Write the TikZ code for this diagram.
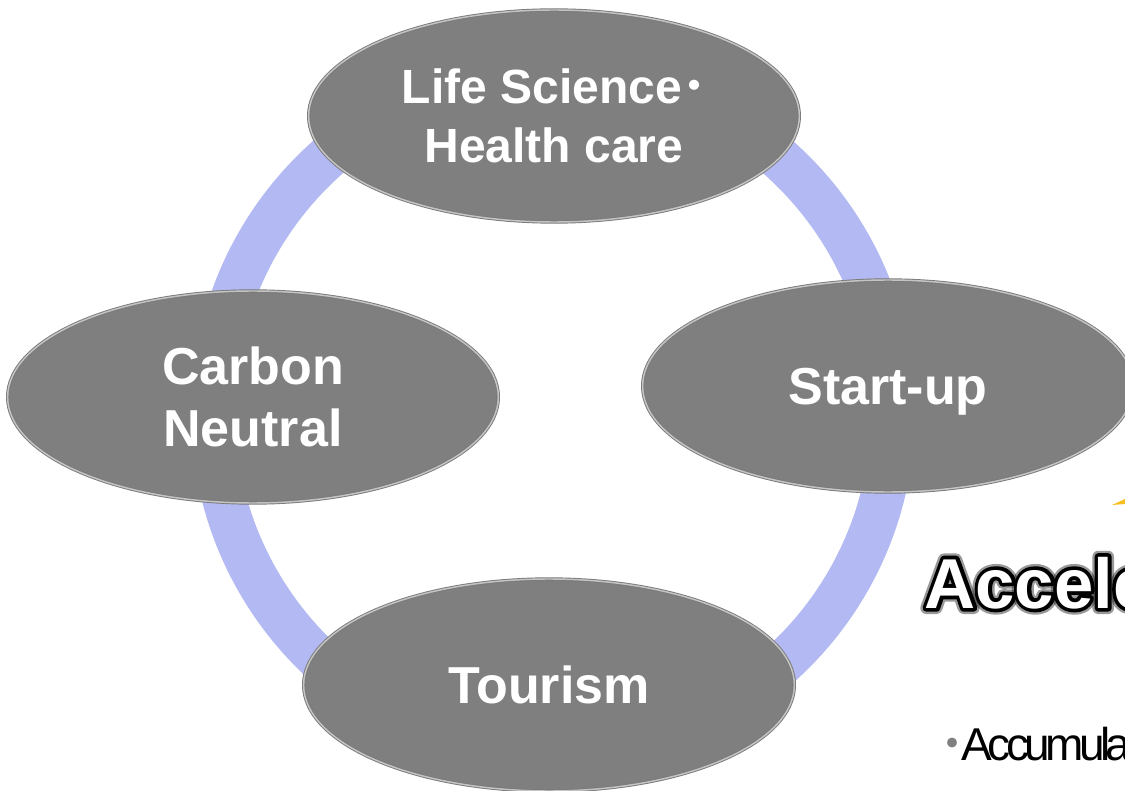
\documentclass[tikz,border=0pt]{standalone}
\usepackage{fontspec}
\setmainfont{Liberation Sans}
\newfontfamily\cjk{Noto Sans CJK JP}
\newfontfamily\tight[LetterSpace=-10]{Liberation Sans}
\usetikzlibrary{shapes.geometric}

% outlined text: stroke the glyphs (pdf text render mode 2)
\newcommand{\strokedtext}[2]{\special{pdf:literal direct 2 Tr #1 w 1 j}#2\special{pdf:literal direct 0 Tr}}

\tikzset{every picture/.style={line width=0.75pt}}
\tikzset{
  ring/.style={draw={rgb, 255:red, 179; green, 185; blue, 242 }, line width=33pt},
  theme/.style={ellipse, fill={rgb, 255:red, 127; green, 127; blue, 127 },
    draw={rgb, 255:red, 122; green, 122; blue, 122 }, double={rgb, 255:red, 196; green, 196; blue, 196 },
    double distance=1.1pt, line width=0.7pt, inner sep=0pt,
    minimum width=368pt, minimum height=159pt, text=white, align=center,
    font=\bfseries\fontsize{39}{47}\selectfont},
  accel/.style={anchor=base west, inner sep=0pt, font=\bfseries\fontsize{53}{60}\selectfont}
}

\begin{document}
\begin{tikzpicture}[x=0.75pt,y=0.75pt,yscale=-1]
\useasboundingbox (0,0) rectangle (1125,791);
\clip (0,0) rectangle (1125,791);

%Shape: Circle [ring behind the ellipses]
\draw [ring] (553,412) circle (340);

%Shape: Ellipse
\node [theme, font=\bfseries\fontsize{36}{44}\selectfont] (life) at (554,116) {Life Science\kern-.25em{\cjk\mdseries ・}\kern-.25em\\Health care};
%Shape: Ellipse
\node [theme, text depth=0pt] (start) at (888,386) {Start-up};
%Shape: Ellipse
\node [theme] (carbon) at (253,397) {Carbon\\Neutral};
%Shape: Ellipse
\node [theme, text depth=0pt] (tour) at (549,685) {Tourism};

%Shape: Polygon [yellow sliver at the edge]
\fill [fill={rgb, 255:red, 247; green, 192; blue, 32 }] (1112,505) -- (1125,499) -- (1125,504) -- cycle;

% Text Node [black halo]
\node [accel, text=black, opacity=0.4] (acchalo) at (924,608) {\strokedtext{9}{Accele}};
\node [accel, text=black] (accline) at (924,608) {\strokedtext{5.5}{Accele}};
% Text Node
\node [accel, text=white] (acc) at (924,608) {Accele};

% Text Node
\node [anchor=base west, inner sep=0pt, font=\fontsize{34.5}{40}\selectfont] (accum) at (929,760) {{\cjk\color{gray}・}\kern-.3em{\tight Accumula}};

\end{tikzpicture}
\end{document}
